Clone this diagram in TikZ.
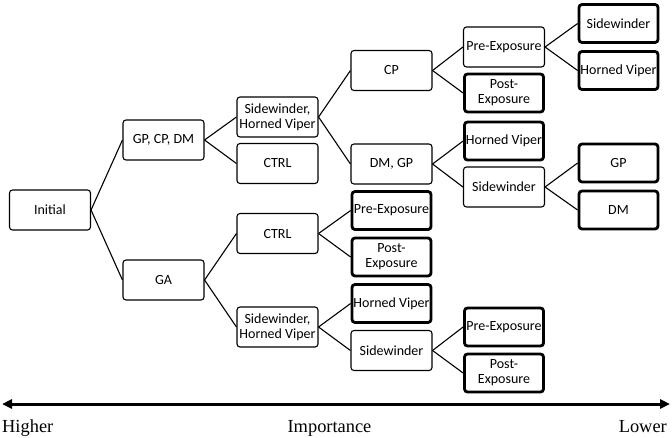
\documentclass[tikz,border=0pt]{standalone}
\usepackage{fontspec}
\setmainfont{Liberation Serif}
\newfontfamily\carlito{Carlito}
\usetikzlibrary{arrows.meta}

\begin{document}
\begin{tikzpicture}[x=1pt, y=-1pt,
  box/.style={draw, line width=1.1pt, rounded corners=3pt, minimum width=81pt,
              minimum height=40pt, inner sep=1pt, align=center,
              font=\carlito\fontsize{14}{15}\selectfont},
  leaf/.style={box, line width=2.8pt, minimum width=79pt, minimum height=38pt},
  link/.style={line width=1.1pt},
  axis/.style={line width=3pt, {Triangle[length=10pt,width=9pt]}-{Triangle[length=10pt,width=9pt]}},
  axislabel/.style={font=\fontsize{18.4}{20}\selectfont, anchor=base}]
\useasboundingbox (0,0) rectangle (672,437);
% tree
\node[box] (init) at (50,210) {Initial};
\node[box] (gcd) at (163.5,140) {GP, CP, DM};
\node[box] (ga) at (163.5,280) {GA};
\node[box] (shvA) at (277.5,117) {Sidewinder,\\Horned Viper};
\node[box] (ctrlA) at (277.5,163.5) {CTRL};
\node[box] (ctrlB) at (277.5,233.5) {CTRL};
\node[box] (shvB) at (277.5,327) {Sidewinder,\\Horned Viper};
\node[box] (cp) at (391.5,70.5) {CP};
\node[box] (dmgp) at (391.5,164) {DM, GP};
\node[leaf] (preB) at (391.5,210.5) {Pre-Exposure};
\node[leaf] (postB) at (391.5,257) {Post-\\Exposure};
\node[leaf] (hvB) at (391.5,303.5) {Horned Viper};
\node[box] (swB) at (391.5,350.5) {Sidewinder};
\node[box] (preA) at (504,47) {Pre-Exposure};
\node[leaf] (postA) at (504,93) {Post-\\Exposure};
\node[leaf] (hvA) at (504,141) {Horned Viper};
\node[box] (swA) at (504,187) {Sidewinder};
\node[leaf] (preC) at (504,327) {Pre-Exposure};
\node[leaf] (postC) at (504,373) {Post-\\Exposure};
\node[leaf] (swAA) at (618.5,23.5) {Sidewinder};
\node[leaf] (hvAA) at (618.5,70.5) {Horned Viper};
\node[leaf] (gp) at (618.5,163) {GP};
\node[leaf] (dm) at (618.5,210) {DM};
\foreach \a/\b in {init/gcd, init/ga, gcd/shvA, gcd/ctrlA, ga/ctrlB, ga/shvB,
                   shvA/cp, shvA/dmgp, ctrlB/preB, ctrlB/postB, shvB/hvB, shvB/swB,
                   cp/preA, cp/postA, dmgp/hvA, dmgp/swA, swB/preC, swB/postC,
                   preA/swAA, preA/hvAA, swA/gp, swA/dm}
  \draw[link] (\a.east) -- (\b.west);
% importance axis
\coordinate (hi) at (2,404);
\coordinate (lo) at (670,404);
\draw[axis] (hi) -- (lo);
\node[axislabel, anchor=base west, inner sep=0pt] (higher) at (2,432) {Higher};
\node[axislabel, inner sep=0pt] (imp) at (329.5,432) {Importance};
\node[axislabel, anchor=base east, inner sep=0pt] (lower) at (667,432) {Lower};
\end{tikzpicture}
\end{document}
